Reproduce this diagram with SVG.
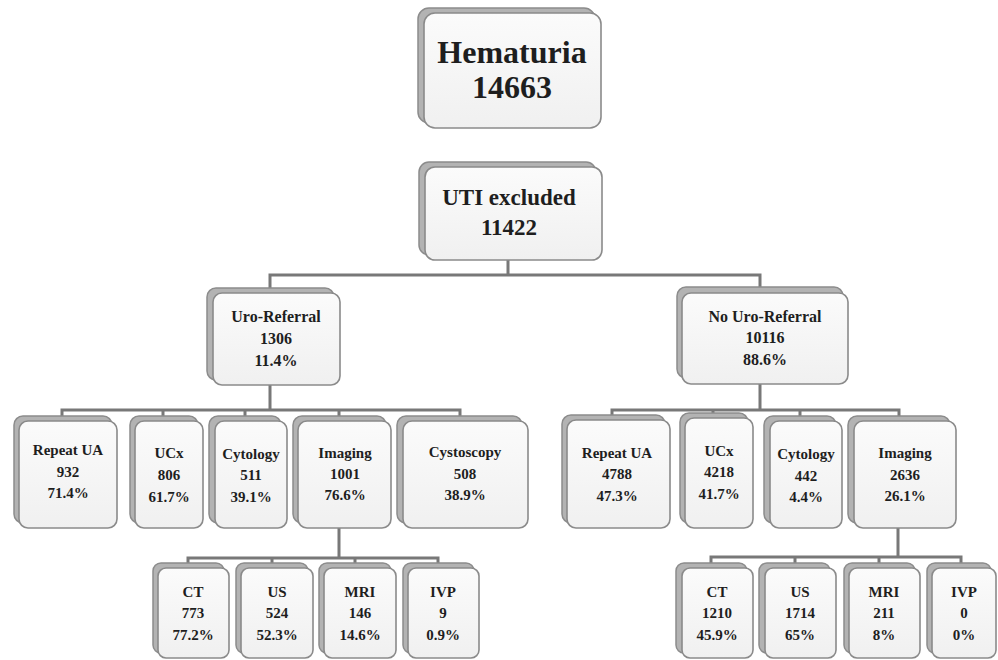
<svg xmlns="http://www.w3.org/2000/svg" width="998" height="660" viewBox="0 0 998 660">
<defs>
<linearGradient id="fg" x1="0" y1="0" x2="0" y2="1">
<stop offset="0" stop-color="#fbfbfb"/>
<stop offset="1" stop-color="#f0f0f0"/>
</linearGradient>
</defs>
<style>
.sh{fill:#b3b3b3;stroke:#8c8c8c;stroke-width:1.5}
.fr{fill:url(#fg);stroke:#8a8a8a;stroke-width:1.6}
text{font-family:"Liberation Serif","Times New Roman",serif;font-weight:bold;fill:#1e1e1e;text-anchor:middle}
.s32{font-size:32px}
.s23{font-size:23px}
.s16{font-size:16px}
.s15{font-size:15px}
.conn path{fill:none;stroke:#787878;stroke-width:3}
</style>
<rect width="998" height="660" fill="#ffffff"/>
<g class="conn">
<path d="M508,260V275M270,275H760M270,273.5V289M760,273.5V289"/>
<path d="M270,385V410M62,410H460M62,408.5V417M163,408.5V417M245,408.5V417M339,408.5V417M460,408.5V417"/>
<path d="M760,384V410M612,410H899M612,408.5V416M713,408.5V414M800,408.5V416M899,408.5V416"/>
<path d="M339,528V558M188,558H438M188,556.5V564M272,556.5V564M355,556.5V564M438,556.5V564"/>
<path d="M898,528V557M711,557H961M711,555.5V564M795,555.5V564M879,555.5V564M961,555.5V564"/>
</g>
<g id="hematuria">
<rect class="sh" x="418" y="8" width="177" height="115" rx="11"/>
<rect class="fr" x="424" y="13" width="177" height="115" rx="11"/>
<text class="s32" x="512" y="63">Hematuria</text>
<text class="s32" x="512" y="98">14663</text>
</g>
<g id="uti">
<rect class="sh" x="419" y="162" width="177" height="93" rx="10"/>
<rect class="fr" x="425" y="167" width="177" height="93" rx="10"/>
<text class="s23" x="509" y="205">UTI excluded</text>
<text class="s23" x="509" y="235">11422</text>
</g>
<g id="uro">
<rect class="sh" x="207" y="288" width="127" height="92" rx="9"/>
<rect class="fr" x="213" y="293" width="127" height="92" rx="9"/>
<text class="s16" x="276" y="322">Uro-Referral</text>
<text class="s16" x="276" y="344">1306</text>
<text class="s16" x="276" y="366">11.4%</text>
</g>
<g id="nouro">
<rect class="sh" x="677" y="287" width="166" height="91" rx="9"/>
<rect class="fr" x="682" y="293" width="166" height="91" rx="9"/>
<text class="s16" x="765" y="322">No Uro-Referral</text>
<text class="s16" x="765" y="343">10116</text>
<text class="s16" x="765" y="365">88.6%</text>
</g>
<g id="l-repeat">
<rect class="sh" x="14" y="416" width="98" height="107" rx="9"/>
<rect class="fr" x="19" y="421" width="98" height="107" rx="9"/>
<text class="s15" x="68" y="455">Repeat UA</text>
<text class="s15" x="68" y="477">932</text>
<text class="s15" x="68" y="498">71.4%</text>
</g>
<g id="l-ucx">
<rect class="sh" x="130" y="416" width="68" height="107" rx="9"/>
<rect class="fr" x="135" y="421" width="68" height="107" rx="9"/>
<text class="s15" x="169" y="458">UCx</text>
<text class="s15" x="169" y="480">806</text>
<text class="s15" x="169" y="502">61.7%</text>
</g>
<g id="l-cytology">
<rect class="sh" x="209" y="416" width="72" height="107" rx="9"/>
<rect class="fr" x="215" y="421" width="72" height="107" rx="9"/>
<text class="s15" x="251" y="459">Cytology</text>
<text class="s15" x="251" y="480">511</text>
<text class="s15" x="251" y="502">39.1%</text>
</g>
<g id="l-imaging">
<rect class="sh" x="293" y="416" width="93" height="107" rx="9"/>
<rect class="fr" x="298" y="421" width="93" height="107" rx="9"/>
<text class="s15" x="345" y="458">Imaging</text>
<text class="s15" x="345" y="479">1001</text>
<text class="s15" x="345" y="500">76.6%</text>
</g>
<g id="l-cystoscopy">
<rect class="sh" x="397" y="416" width="125" height="107" rx="9"/>
<rect class="fr" x="403" y="421" width="125" height="107" rx="9"/>
<text class="s15" x="465" y="457">Cystoscopy</text>
<text class="s15" x="465" y="479">508</text>
<text class="s15" x="465" y="500">38.9%</text>
</g>
<g id="r-repeat">
<rect class="sh" x="562" y="415" width="103" height="108" rx="9"/>
<rect class="fr" x="567" y="420" width="103" height="108" rx="9"/>
<text class="s15" x="617" y="458">Repeat UA</text>
<text class="s15" x="617" y="479">4788</text>
<text class="s15" x="617" y="501">47.3%</text>
</g>
<g id="r-ucx">
<rect class="sh" x="680" y="413" width="68" height="110" rx="9"/>
<rect class="fr" x="685" y="418" width="68" height="110" rx="9"/>
<text class="s15" x="719" y="456">UCx</text>
<text class="s15" x="719" y="477">4218</text>
<text class="s15" x="719" y="499">41.7%</text>
</g>
<g id="r-cytology">
<rect class="sh" x="764" y="416" width="72" height="107" rx="9"/>
<rect class="fr" x="770" y="421" width="72" height="107" rx="9"/>
<text class="s15" x="806" y="459">Cytology</text>
<text class="s15" x="806" y="481">442</text>
<text class="s15" x="806" y="502">4.4%</text>
</g>
<g id="r-imaging">
<rect class="sh" x="848" y="416" width="102" height="107" rx="9"/>
<rect class="fr" x="854" y="421" width="102" height="107" rx="9"/>
<text class="s15" x="905" y="458">Imaging</text>
<text class="s15" x="905" y="480">2636</text>
<text class="s15" x="905" y="501">26.1%</text>
</g>
<g id="l-ct">
<rect class="sh" x="153" y="563" width="71" height="90" rx="8"/>
<rect class="fr" x="158" y="568" width="71" height="90" rx="8"/>
<text class="s15" x="193" y="597">CT</text>
<text class="s15" x="193" y="618">773</text>
<text class="s15" x="193" y="640">77.2%</text>
</g>
<g id="l-us">
<rect class="sh" x="236" y="563" width="72" height="90" rx="8"/>
<rect class="fr" x="241" y="568" width="72" height="90" rx="8"/>
<text class="s15" x="277" y="597">US</text>
<text class="s15" x="277" y="618">524</text>
<text class="s15" x="277" y="640">52.3%</text>
</g>
<g id="l-mri">
<rect class="sh" x="319" y="563" width="72" height="90" rx="8"/>
<rect class="fr" x="324" y="568" width="72" height="90" rx="8"/>
<text class="s15" x="360" y="597">MRI</text>
<text class="s15" x="360" y="618">146</text>
<text class="s15" x="360" y="640">14.6%</text>
</g>
<g id="l-ivp">
<rect class="sh" x="403" y="563" width="71" height="90" rx="8"/>
<rect class="fr" x="408" y="568" width="71" height="90" rx="8"/>
<text class="s15" x="443" y="597">IVP</text>
<text class="s15" x="443" y="618">9</text>
<text class="s15" x="443" y="640">0.9%</text>
</g>
<g id="r-ct">
<rect class="sh" x="676" y="563" width="71" height="90" rx="8"/>
<rect class="fr" x="682" y="568" width="71" height="90" rx="8"/>
<text class="s15" x="717" y="597">CT</text>
<text class="s15" x="717" y="618">1210</text>
<text class="s15" x="717" y="640">45.9%</text>
</g>
<g id="r-us">
<rect class="sh" x="759" y="563" width="71" height="90" rx="8"/>
<rect class="fr" x="765" y="568" width="71" height="90" rx="8"/>
<text class="s15" x="800" y="597">US</text>
<text class="s15" x="800" y="618">1714</text>
<text class="s15" x="800" y="640">65%</text>
</g>
<g id="r-mri">
<rect class="sh" x="844" y="563" width="71" height="90" rx="8"/>
<rect class="fr" x="849" y="568" width="71" height="90" rx="8"/>
<text class="s15" x="884" y="597">MRI</text>
<text class="s15" x="884" y="618">211</text>
<text class="s15" x="884" y="640">8%</text>
</g>
<g id="r-ivp">
<rect class="sh" x="927" y="563" width="64" height="90" rx="8"/>
<rect class="fr" x="932" y="568" width="64" height="90" rx="8"/>
<text class="s15" x="964" y="597">IVP</text>
<text class="s15" x="964" y="618">0</text>
<text class="s15" x="964" y="640">0%</text>
</g>
</svg>
